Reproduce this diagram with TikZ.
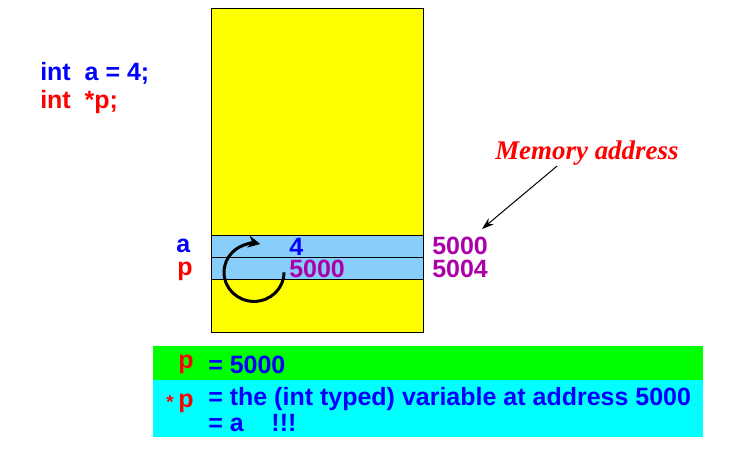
\documentclass[tikz,border=0pt]{standalone}
\usepackage{fontspec}
\setmainfont{Liberation Serif}
\setsansfont{Liberation Sans}
\usepackage{tikz}
\usetikzlibrary{arrows,arrows.meta}
\definecolor{cellblue}{RGB}{135,206,250}
\definecolor{addrpurple}{RGB}{170,0,170}
\definecolor{memyellow}{RGB}{255,255,0}
\definecolor{boxgreen}{RGB}{0,255,0}
\definecolor{boxcyan}{RGB}{0,255,255}
\definecolor{codeblue}{RGB}{0,0,255}
\definecolor{codered}{RGB}{255,0,0}
\tikzset{
  txt/.style = {inner sep=0pt, anchor=base west,
    font=\sffamily\bfseries\fontsize{18.75}{22}\selectfont},
  bl/.style = {txt, codeblue},% blue code text
  rd/.style = {txt, codered},% red pointer text
  pu/.style = {txt, addrpurple},% addresses
  cell/.style = {draw=black, fill=cellblue, line width=0.75pt}% memory cell
}
\begin{document}
\begin{tikzpicture}[x=0.75pt,y=-0.75pt,>=stealth']
\useasboundingbox (0,0) rectangle (749,449);
% memory block
\draw[fill=memyellow, line width=0.75pt] (211,9) rectangle (423,332);
\draw[cell] (211,235) rectangle (423,257);
\draw[cell] (211,257) rectangle (423,279);
% declarations
\node [bl] (deca) at (40,81) {int\ \ a = 4;};
\node [rd] (decp) at (40,109) {int\ \ *p;};
% variable names and contents
\node [bl] (namea) at (176,252) {a};
\node [rd] (namep) at (177,275) {p};
\node [bl] (vala) at (289,255) {4};
\node [pu] (valp) at (289,277) {5000};
\node [pu] (addra) at (432,254) {5000};
\node [pu] (addrp) at (432,277) {5004};
% label with arrow
\node [inner sep=0pt, anchor=base west, codered,
  font=\rmfamily\bfseries\itshape\fontsize{20.2}{24}\selectfont] (mem) at (495,160) {Memory address};
\coordinate (tip) at (482,229);
\draw [-{Stealth[length=9pt,width=6pt]}, line width=0.75pt] ([shift={(62,0)}]mem.south west) -- (tip);
% pointer loop
\draw [-{Stealth[length=9pt,width=9pt]}, line width=2.25pt] ([shift={(-5,4)}]valp.west) arc (0:282:30 and 29);
% explanation
\fill[boxgreen] (153,346) rectangle (703,380);
\fill[boxcyan] (153,380) rectangle (703,437);
\node [rd] (pv) at (178,368) {p};
\node [bl] (pveq) at (208,373) {= 5000};
\node [inner sep=0pt, anchor=base west, codered,
  font=\sffamily\bfseries\fontsize{14}{16}\selectfont] (star) at (166,408) {*};
\node [rd] (ps) at (178,407) {p};
\node [bl] (pseq) at (208,405) {= the (int typed) variable at address 5000};
\node [bl] (isa) at (208,431) {= a\ \ \ \ !!!};
\end{tikzpicture}
\end{document}
